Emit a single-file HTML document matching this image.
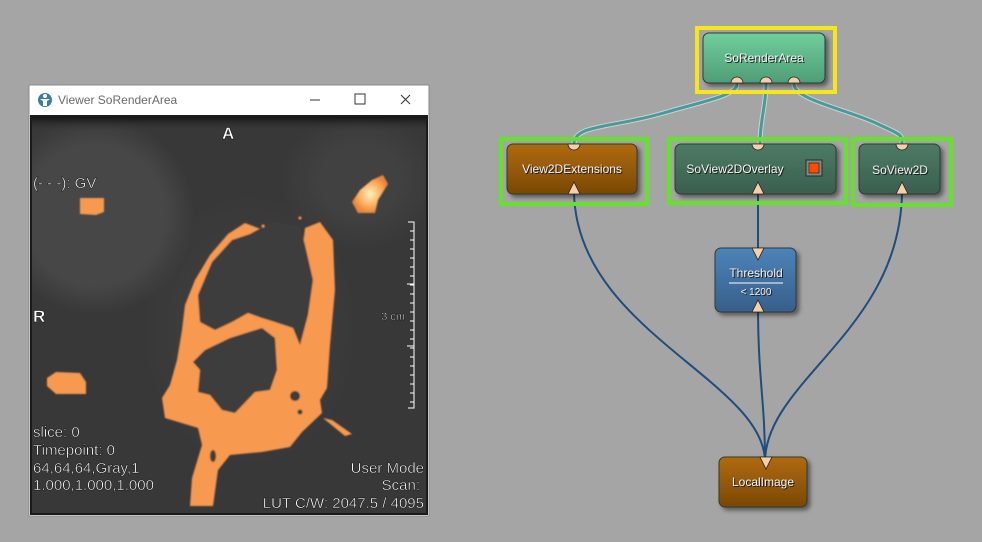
<!DOCTYPE html>
<html><head><meta charset="utf-8"><style>
html,body{margin:0;padding:0;background:#a5a5a5;width:982px;height:542px;overflow:hidden}
svg{display:block}
text{font-family:"Liberation Sans",sans-serif}
</style></head><body>
<svg width="982" height="542" viewBox="0 0 982 542" xmlns="http://www.w3.org/2000/svg">
<defs>
<linearGradient id="gTeal" x1="0" y1="0" x2="0" y2="1"><stop offset="0" stop-color="#6fcf9c"/><stop offset="1" stop-color="#4f9c76"/></linearGradient>
<linearGradient id="gBrown" x1="0" y1="0" x2="0" y2="1"><stop offset="0" stop-color="#b06a08"/><stop offset="1" stop-color="#7a4806"/></linearGradient>
<linearGradient id="gGreen" x1="0" y1="0" x2="0" y2="1"><stop offset="0" stop-color="#4c7b65"/><stop offset="1" stop-color="#3a5f4e"/></linearGradient>
<linearGradient id="gBlue" x1="0" y1="0" x2="0" y2="1"><stop offset="0" stop-color="#4c83b9"/><stop offset="1" stop-color="#375f8a"/></linearGradient>
<radialGradient id="rg" cx="0.5" cy="0.5" r="0.5"><stop offset="0" stop-color="#fff1c0"/><stop offset="0.6" stop-color="#ffb060"/><stop offset="1" stop-color="#e8853a"/></radialGradient>
<radialGradient id="c1" cx="0.5" cy="0.5" r="0.5"><stop offset="0.7" stop-color="#474747"/><stop offset="1" stop-color="#474747" stop-opacity="0"/></radialGradient>
<radialGradient id="c2" cx="0.5" cy="0.5" r="0.5"><stop offset="0.5" stop-color="#414141"/><stop offset="1" stop-color="#414141" stop-opacity="0"/></radialGradient>
<linearGradient id="topd" x1="0" y1="0" x2="0" y2="1"><stop offset="0" stop-color="#151515"/><stop offset="1" stop-color="#383838" stop-opacity="0"/></linearGradient>
<filter id="sh" x="-10%" y="-10%" width="130%" height="140%"><feDropShadow dx="3" dy="3" stdDeviation="2" flood-color="#000" flood-opacity="0.45"/></filter>
<filter id="bl" x="-5%" y="-5%" width="110%" height="110%"><feGaussianBlur stdDeviation="0.8"/></filter>
</defs>

<!-- Viewer window -->
<rect x="29" y="85" width="400" height="431" fill="#ffffff" stroke="#8a8a8a" stroke-width="1"/>
<circle cx="45" cy="100" r="7" fill="#3a7fa0"/>
<circle cx="45" cy="96" r="2" fill="#fff"/>
<path d="M40 99 L50 99 L47 101 L47 106 L43 106 L43 101 Z" fill="#fff"/>
<text x="58" y="104" font-size="12" fill="#6a6a6a">Viewer SoRenderArea</text>
<line x1="310" y1="100" x2="320" y2="100" stroke="#333" stroke-width="1"/>
<rect x="355" y="94" width="10" height="10" fill="none" stroke="#333" stroke-width="1"/>
<path d="M401 95 L410 104 M410 95 L401 104" stroke="#333" stroke-width="1"/>
<rect x="30" y="115" width="398" height="400" fill="#1a1a1a"/>
<svg x="32" y="117" width="394" height="396" viewBox="32 117 394 396">
<rect x="32" y="117" width="394" height="396" fill="#383838"/>
<circle cx="95" cy="215" r="100" fill="url(#c1)"/>
<ellipse cx="360" cy="180" rx="80" ry="70" fill="url(#c2)"/>
<ellipse cx="250" cy="330" rx="110" ry="140" fill="url(#c2)" opacity="0.6"/>
<rect x="32" y="117" width="394" height="14" fill="url(#topd)"/>
<g filter="url(#bl)">
<polygon fill="#f7994f" points="245,223 228,234 210,255 195,280 185,305 182,330 177,360 170,385 162,398 165,418 198,428 202,445 192,478 190,506 213,506 218,470 230,455 262,452 290,447 302,432 322,413 320,400 327,388 330,345 335,290 333,240 320,222 305,228 303,245"/>
<polygon fill="#3c3c3c" points="250,234 272,222 300,226 305,245 313,280 308,315 300,345 293,328 275,322 262,318 248,313 232,322 215,330 200,322 198,295 212,262 232,240"/>
<polygon fill="#3c3c3c" points="205,350 230,338 262,328 275,338 277,370 270,390 255,392 235,413 222,410 210,395 198,392 200,370 193,362"/>
<circle cx="295" cy="396" r="5" fill="#3c3c3c"/>
<circle cx="300" cy="412" r="2.5" fill="#3c3c3c"/>
<ellipse cx="213" cy="456" rx="3" ry="6" fill="#3c3c3c"/>
<polygon fill="#f7994f" points="80,198 104,198 104,212 96,215 80,214"/>
<polygon fill="#f7994f" points="47,378 56,372 80,373 86,382 86,394 56,394 47,386"/>
<polygon fill="url(#rg)" points="352,202 360,190 372,180 383,175 388,184 378,200 375,213 358,213"/>
<polygon fill="#f7994f" points="323,418 332,420 352,434 345,436"/>
<circle cx="263" cy="226" r="1.5" fill="#f7994f"/>
<circle cx="300" cy="218" r="1.5" fill="#f7994f"/>
</g>
</svg>
<g font-size="15" fill="#fff" stroke="#000" stroke-width="0.4">
<text x="222" y="139" font-weight="bold" font-size="17">A</text>
<text x="33" y="322" font-weight="bold" font-size="17">R</text>
<text x="33" y="188">(- - -):  GV</text>
<text x="33" y="437">slice:  0</text>
<text x="33" y="455">Timepoint: 0</text>
<text x="33" y="473">64,64,64,Gray,1</text>
<text x="33" y="490">1.000,1.000,1.000</text>
<text x="424" y="473" text-anchor="end">User Mode</text>
<text x="420" y="490" text-anchor="end">Scan:</text>
<text x="424" y="508" text-anchor="end">LUT C/W: 2047.5 / 4095</text>
<text x="405" y="320" text-anchor="end" font-size="11">3 cm</text>
</g>
<g stroke="#fff" stroke-width="1" fill="none">
<path d="M408 222 H414 V408 H408"/>
<path d="M410 231H414M410 240H414M410 249H414M410 258H414M410 267H414M410 276H414M410 285H414M410 294H414M410 303H414M410 312H414M410 321H414M410 330H414M410 339H414M410 348H414M410 357H414M410 366H414M410 375H414M410 384H414M410 393H414M410 402H414"/>
<path d="M407 284H414M407 346H414"/>
</g>

<!-- Connections -->
<g fill="none" stroke-linecap="round">
<g stroke="#dff2ee" stroke-width="5" opacity="0.6">
<path d="M737 84 C737 96 700 102 660 114 C610 128 574 125 574 144"/>
<path d="M766 84 C766 105 760 120 760 144"/>
<path d="M794 84 C794 100 850 110 880 125 C902 135 902 135 902 144"/>
</g>
<g stroke="#4a9a9a" stroke-width="3">
<path d="M737 84 C737 96 700 102 660 114 C610 128 574 125 574 144"/>
<path d="M766 84 C766 105 760 120 760 144"/>
<path d="M794 84 C794 100 850 110 880 125 C902 135 902 135 902 144"/>
</g>
<g stroke="#1f4d7c" stroke-width="2">
<path d="M574 190 C574 330 765 380 765 462"/>
<path d="M902 190 C902 330 765 380 765 462"/>
<path d="M758 305 C758 380 765 400 765 462"/>
<path d="M758 193 L758 250"/>
</g>
</g>

<!-- Selection boxes -->
<rect x="697" y="28" width="138" height="64" fill="none" stroke="#f8e61c" stroke-width="4"/>
<rect x="501" y="139" width="146" height="65" fill="none" stroke="#66e22c" stroke-width="4"/>
<rect x="669" y="139" width="177" height="64" fill="none" stroke="#66e22c" stroke-width="4"/>
<rect x="853" y="139" width="98" height="66" fill="none" stroke="#66e22c" stroke-width="4"/>

<!-- Nodes -->
<g filter="url(#sh)" stroke="#2f3a33" stroke-width="1">
<rect x="703" y="33" width="122" height="50" rx="6" fill="url(#gTeal)"/>
<rect x="507" y="144" width="130" height="50" rx="6" fill="url(#gBrown)"/>
<rect x="675" y="144" width="161" height="50" rx="6" fill="url(#gGreen)"/>
<rect x="859" y="144" width="81" height="50" rx="6" fill="url(#gGreen)"/>
<rect x="715" y="248" width="81" height="64" rx="6" fill="url(#gBlue)"/>
<rect x="719" y="457" width="88" height="50" rx="6" fill="url(#gBrown)"/>
</g>
<rect x="806" y="160" width="16" height="16" fill="#7d8a85" stroke="#2a2a2a" stroke-width="1"/>
<rect x="809" y="163" width="10" height="10" fill="#ff4a00" stroke="#000" stroke-width="0.5"/>

<g font-size="12" text-anchor="middle" fill="#1a1a1a" transform="translate(1,1)">
<text x="764" y="62">SoRenderArea</text>
<text x="572" y="173">View2DExtensions</text>
<text x="735" y="173">SoView2DOverlay</text>
<text x="900" y="174">SoView2D</text>
<text x="756" y="277">Threshold</text>
<text x="756" y="295" font-size="10">&lt; 1200</text>
<text x="763" y="486">LocalImage</text>
</g>
<g font-size="12" fill="#f4f4f4" text-anchor="middle">
<text x="764" y="62">SoRenderArea</text>
<text x="572" y="173">View2DExtensions</text>
<text x="735" y="173">SoView2DOverlay</text>
<text x="900" y="174">SoView2D</text>
<text x="756" y="277">Threshold</text>
<text x="756" y="295" font-size="10">&lt; 1200</text>
<text x="763" y="486">LocalImage</text>
</g>
<line x1="729" y1="283" x2="783" y2="283" stroke="#fff" stroke-width="1"/>

<!-- Ports -->
<g fill="#f5cfa8" stroke="#222" stroke-width="0.8">
<path d="M731 83 A6 6 0 0 1 743 83 Z"/>
<path d="M760 83 A6 6 0 0 1 772 83 Z"/>
<path d="M788 83 A6 6 0 0 1 800 83 Z"/>
<path d="M568 144 A6 6 0 0 0 580 144 Z"/>
<path d="M752 144 A6 6 0 0 0 764 144 Z"/>
<path d="M896 144 A6 6 0 0 0 908 144 Z"/>
<path d="M574 182 L568 194 L580 194 Z"/>
<path d="M758 182 L752 194 L764 194 Z"/>
<path d="M902 182 L896 194 L908 194 Z"/>
<path d="M752 248 L764 248 L758 260 Z"/>
<path d="M758 300 L752 312 L764 312 Z"/>
<path d="M760 457 L772 457 L766 469 Z"/>
</g>
</svg>
</body></html>
